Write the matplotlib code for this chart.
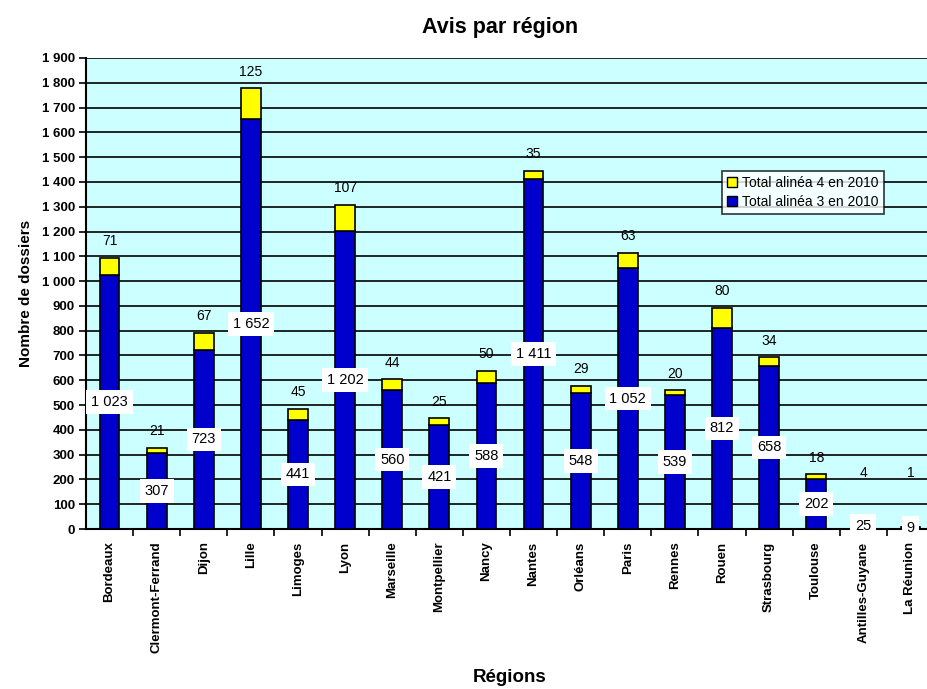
import matplotlib
matplotlib.use("Agg")
import matplotlib.pyplot as plt
import numpy as np
from matplotlib.patches import Patch

regions = ["Bordeaux", "Clermont-Ferrand", "Dijon", "Lille", "Limoges", "Lyon",
           "Marseille", "Montpellier", "Nancy", "Nantes", "Orléans", "Paris",
           "Rennes", "Rouen", "Strasbourg", "Toulouse", "Antilles-Guyane", "La Réunion"]
alinea3 = [1023, 307, 723, 1652, 441, 1202, 560, 421, 588, 1411, 548, 1052,
           539, 812, 658, 202, 25, 9]
alinea4 = [71, 21, 67, 125, 45, 107, 44, 25, 50, 35, 29, 63, 20, 80, 34, 18, 4, 1]
y_ticks = list(range(0, 2000, 100))


def fmt(v):
    return f"{v:,}".replace(",", " ")


def main():
    plt.rcParams["font.family"] = ["Liberation Sans", "DejaVu Sans"]
    fig = plt.figure(figsize=(9.27, 6.89), dpi=100)
    ax = fig.add_axes([86 / 927, 160 / 689, 848 / 927, 471 / 689])
    ax.set_facecolor("#CCFFFF")

    x = np.arange(len(regions))
    a3 = np.array(alinea3)
    a4 = np.array(alinea4)
    width = 0.42

    ax.set_axisbelow(True)
    ax.yaxis.grid(True, color="black", linewidth=1.2)
    ax.bar(x, a3, width, color="#0000CC", edgecolor="black", linewidth=1.2,
           label="Total alinéa 3 en 2010", zorder=3)
    ax.bar(x, a4, width, bottom=a3, color="#FFFF00", edgecolor="black",
           linewidth=1.2, label="Total alinéa 4 en 2010", zorder=3)

    for xi, v3, v4 in zip(x, a3, a4):
        ax.text(xi, v3 / 2, fmt(v3), ha="center", va="center", fontsize=10.5,
                zorder=5, bbox=dict(facecolor="white", edgecolor="none", pad=3.5))
        top = max(v3 + v4, 160)
        ax.annotate(fmt(v4), (xi, top), xytext=(0, 7), textcoords="offset points",
                    ha="center", va="bottom", fontsize=10, zorder=5)

    ax.set_xlim(-0.5, len(regions) - 0.5)
    ax.set_ylim(0, 1900)
    ax.set_yticks(y_ticks)
    ax.set_yticklabels([fmt(v) for v in y_ticks], fontsize=9.5, fontweight="bold")

    ax.set_xticks(x[:-1] + 0.5)
    ax.set_xticklabels([])
    ax.set_xticks(x, minor=True)
    ax.set_xticklabels(regions, minor=True, rotation=90, fontsize=9.5,
                       fontweight="bold", va="top")
    ax.tick_params(axis="x", which="major", length=5, width=1.2, direction="out")
    ax.tick_params(axis="x", which="minor", length=0, pad=9)
    ax.tick_params(axis="y", length=5, width=1.2, direction="out", pad=3)

    for side in ["top", "right"]:
        ax.spines[side].set_visible(False)
    for side in ["left", "bottom"]:
        ax.spines[side].set_linewidth(1.5)

    ax.set_ylabel("Nombre de dossiers", fontsize=11, fontweight="bold", labelpad=6)
    fig.text(510 / 927, 1 - 677 / 689, "Régions", ha="center", va="center",
             fontsize=13.5, fontweight="bold")
    fig.text(500 / 927, 1 - 27 / 689, "Avis par région", ha="center", va="center",
             fontsize=15.5, fontweight="bold")

    handles = [Patch(facecolor="#FFFF00", edgecolor="black"),
               Patch(facecolor="#0000CC", edgecolor="black")]
    leg = ax.legend(handles, ["Total alinéa 4 en 2010", "Total alinéa 3 en 2010"],
                    loc="upper left", fontsize=10, frameon=True,
                    fancybox=False, handlelength=0.7, handleheight=0.7,
                    handletextpad=0.4, borderpad=0.35, labelspacing=0.35,
                    borderaxespad=0)
    leg.set_bbox_to_anchor((722 / 927, 1 - 171 / 689), transform=fig.transFigure)
    leg.get_frame().set_edgecolor("black")
    leg.get_frame().set_linewidth(1.2)
    leg.set_zorder(6)

    fig.savefig("out.png", dpi=100)


if __name__ == "__main__":
    main()
